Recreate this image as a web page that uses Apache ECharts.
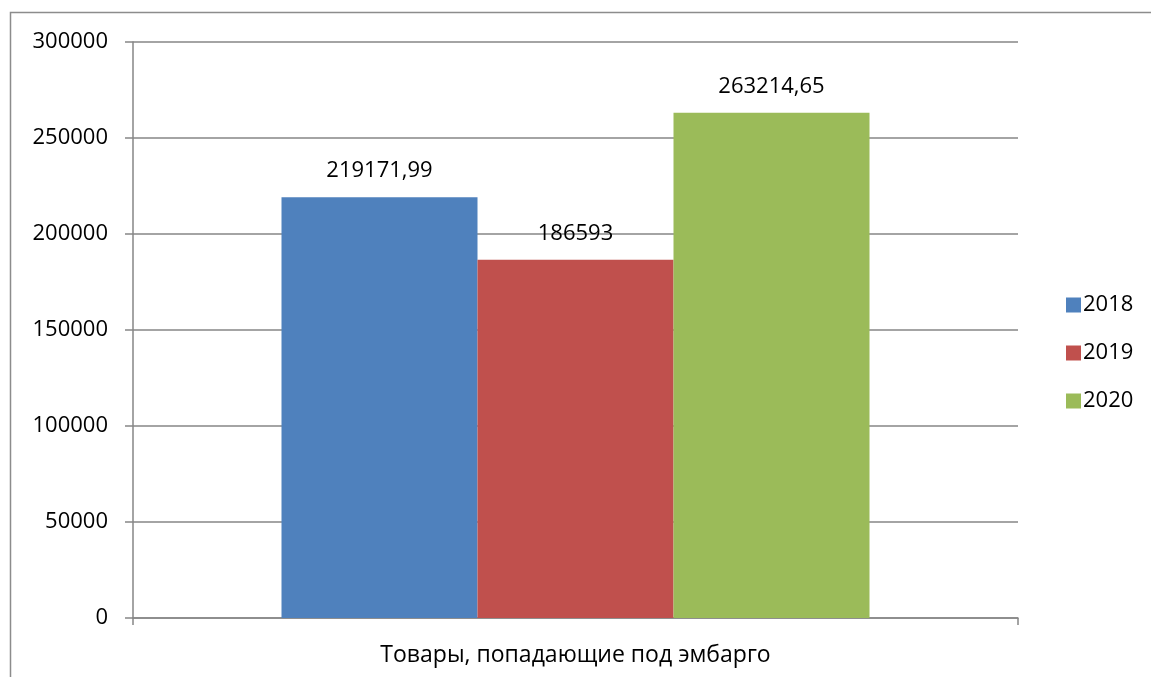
<!DOCTYPE html>
<html>
<head>
<meta charset="utf-8">
<script src="https://cdn.jsdelivr.net/npm/echarts@6/dist/echarts.min.js"></script>
<style>
  html, body { margin: 0; padding: 0; background: #fff; }
  #chart { width: 1151px; height: 677px; }
</style>
</head>
<body>
<div id="chart"></div>
<script>
// данные диаграммы
var categories = ['Товары, попадающие под эмбарго'];
var years = ['2018', '2019', '2020'];
var values2018 = [219171.99];
var values2019 = [186593];
var values2020 = [263214.65];
var colors = ['#4F81BD', '#C0504D', '#9BBB59'];
var yTicks = { min: 0, max: 300000, step: 50000 };

var seriesValues = [values2018, values2019, values2020];
var fontName = '"Open Sans", sans-serif';

// 219171.99 -> "219171,99"
function fmt(v) {
    return String(v).replace('.', ',');
}

var myChart = echarts.init(document.getElementById('chart'));
var series = [];
for (var i = 0; i < years.length; i++) {
    series.push({
        name: years[i],
        type: 'bar',
        barWidth: 196,
        barGap: '0%',
        itemStyle: { color: colors[i] },
        label: {
            show: true,
            position: 'top',
            distance: 15,
            color: '#000',
            fontSize: 22,
            fontFamily: fontName,
            formatter: function (p) { return fmt(p.value); }
        },
        data: seriesValues[i]
    });
}

var option = {
    animation: false,
    backgroundColor: '#fff',
    color: colors,
    // рамка вокруг диаграммы
    graphic: [{
        type: 'rect',
        shape: { x: 10.5, y: 12.5, width: 1200, height: 700 },
        style: { fill: 'none', stroke: '#8c8c8c', lineWidth: 1.5 },
        silent: true
    }],
    grid: { left: 133, right: 133, top: 42, bottom: 59 },
    legend: {
        orient: 'vertical',
        left: 1061,
        top: 289,
        itemWidth: 15,
        itemHeight: 15,
        itemGap: 26,
        icon: 'rect',
        textStyle: { color: '#000', fontSize: 22, fontFamily: fontName, padding: [0, 0, 0, -3] },
        data: years
    },
    xAxis: {
        type: 'category',
        data: categories,
        axisLine: { lineStyle: { color: '#868686', width: 1.5 } },
        axisTick: { show: true, length: 7, lineStyle: { color: '#868686', width: 1.5 } },
        axisLabel: { color: '#000', fontSize: 23, fontFamily: fontName, margin: 26 }
    },
    yAxis: {
        type: 'value',
        min: yTicks.min,
        max: yTicks.max,
        interval: yTicks.step,
        axisLine: { show: true, lineStyle: { color: '#868686', width: 1.5 } },
        axisTick: { show: true, length: 8, lineStyle: { color: '#868686', width: 1.5 } },
        axisLabel: {
            color: '#000', fontSize: 22, fontFamily: fontName, margin: 25,
            formatter: function (v) { return String(v); }
        },
        splitLine: { lineStyle: { color: '#868686', width: 1.5 } }
    },
    series: series
};
myChart.setOption(option);
</script>
</body>
</html>
